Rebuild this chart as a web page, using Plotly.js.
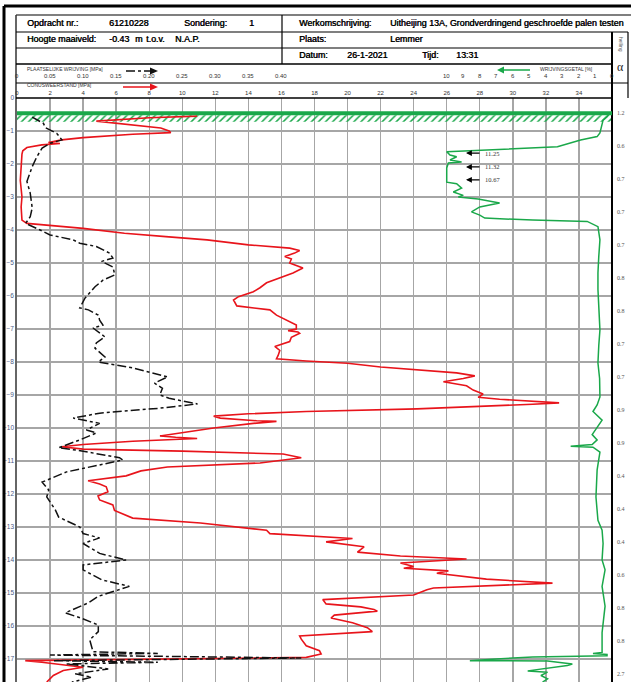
<!DOCTYPE html>
<html><head><meta charset="utf-8">
<script src="https://cdn.plot.ly/plotly-3.0.1.min.js"></script>
<style>html,body{margin:0;padding:0;background:#fff;}#c{width:631px;height:682px;}</style>
</head><body><div id="c"></div>
<script>
// ---- data (depth in m relative to top, conus in MPa, friction in MPa, ratio in %) ----
const conusDepth = [-0.55,-0.6,-0.7,-0.8,-0.91,-1.0,-1.05,-1.1,-1.2,-1.27,
-1.35,-1.38,-1.42,-1.5,-1.6,-1.7,-2.0,-2.5,-3.0,-3.3,
-3.7,-3.8,-3.95,-4.1,-4.2,-4.3,-4.45,-4.55,-4.62,-4.7,
-4.8,-4.88,-5.0,-5.15,-5.3,-5.45,-5.6,-5.75,-5.87,-6.02,
-6.12,-6.3,-6.36,-6.42,-6.58,-6.73,-6.88,-7.0,-7.05,-7.09,
-7.13,-7.25,-7.38,-7.53,-7.65,-7.8,-7.9,-7.97,-8.04,-8.15,
-8.25,-8.33,-8.42,-8.5,-8.6,-8.72,-8.85,-8.97,-9.07,-9.13,
-9.24,-9.28,-9.42,-9.5,-9.57,-9.64,-9.7,-9.78,-9.8,-9.86,
-10.0,-10.12,-10.24,-10.28,-10.32,-10.4,-10.5,-10.57,-10.64,-10.7,
-10.79,-10.9,-11.06,-11.18,-11.3,-11.45,-11.6,-11.7,-11.78,-11.93,
-12.06,-12.18,-12.33,-12.5,-12.73,-12.88,-13.1,-13.2,-13.3,-13.35,
-13.45,-13.6,-13.76,-13.88,-13.97,-14.09,-14.2,-14.25,-14.33,-14.4,
-14.58,-14.7,-14.85,-14.9,-15.06,-15.2,-15.33,-15.42,-15.5,-15.55,
-15.67,-15.76,-15.9,-16.05,-16.17,-16.3,-16.4,-16.6,-16.75,-16.85,
-16.95,-17.0,-17.05,-17.1,-17.2,-17.25,-17.35,-17.5,-17.7];
const conusValue = [10.9,8.0,4.8,6.5,8.7,9.2,9.3,7.0,4.0,2.7,
1.9,2.6,1.5,0.6,0.35,0.3,0.25,0.2,0.3,0.25,
0.3,0.6,4.0,6.5,9.0,11.5,14.0,16.5,17.1,16.8,
16.2,16.6,16.5,17.3,16.7,15.9,15.1,14.7,14.3,13.4,
13.1,13.3,14.5,15.3,15.7,16.3,16.9,16.9,16.4,17.0,
17.1,16.6,16.5,15.6,15.9,15.8,15.7,17.5,20.0,22.0,
24.5,26.6,27.7,27.0,25.8,27.2,27.6,28.2,27.9,29.2,
32.8,31.2,24.2,17.5,14.0,11.9,12.3,14.5,15.7,14.3,
11.9,10.3,8.65,9.6,10.9,7.0,4.0,2.7,4.0,10.0,
16.1,17.2,14.7,9.1,7.5,6.6,4.3,5.0,5.4,5.5,
4.9,5.0,5.8,5.9,7.0,11.1,15.1,15.3,18.9,20.3,
18.7,21.0,20.6,23.2,27.2,23.2,24.0,23.4,26.1,25.4,
28.4,32.4,25.2,24.8,24.0,18.5,18.7,20.8,21.6,21.8,
19.2,19.0,20.3,21.2,21.5,17.1,17.2,17.5,18.3,18.4,
17.5,10.0,0.5,1.5,3.4,4.0,2.8,2.2,1.8];

const wrijvingDepth = [-0.58,-0.77,-0.9,-1.07,-1.27,-1.37,-1.52,-1.78,-2.08,-2.4,
-2.53,-2.88,-3.33,-3.6,-3.8,-4.0,-4.15,-4.3,-4.4,-4.5,
-4.7,-4.85,-4.95,-5.12,-5.36,-5.52,-5.72,-5.9,-6.06,-6.36,
-6.42,-6.58,-6.73,-6.88,-6.97,-7.24,-7.42,-7.58,-7.85,-8.0,
-8.18,-8.45,-8.64,-8.8,-9.0,-9.1,-9.27,-9.4,-9.55,-9.7,
-9.86,-10.06,-10.15,-10.36,-10.6,-10.67,-10.9,-10.97,-11.12,-11.33,
-11.64,-11.88,-12.09,-12.48,-12.7,-13.0,-13.2,-13.33,-13.5,-13.8,
-14.0,-14.15,-14.3,-14.6,-14.8,-15.1,-15.3,-15.6,-15.77,-15.97,
-16.17,-16.42,-16.78,-16.83,-16.88,-16.97,-17.05,-17.1,-17.15,-17.3,
-17.45,-17.55,-17.7];
const wrijvingValue = [0.023,0.040,0.043,0.060,0.068,0.050,0.038,0.030,0.023,0.018,
0.015,0.020,0.023,0.020,0.013,0.035,0.050,0.085,0.095,0.120,
0.140,0.145,0.128,0.145,0.148,0.130,0.118,0.110,0.103,0.095,
0.108,0.123,0.125,0.130,0.115,0.133,0.120,0.118,0.133,0.123,
0.175,0.228,0.208,0.220,0.216,0.230,0.273,0.216,0.125,0.085,
0.125,0.105,0.120,0.095,0.063,0.090,0.155,0.160,0.125,0.075,
0.038,0.048,0.045,0.058,0.063,0.095,0.100,0.125,0.100,0.125,
0.165,0.100,0.100,0.128,0.170,0.123,0.108,0.073,0.098,0.123,
0.123,0.110,0.115,0.213,0.050,0.430,0.055,0.213,0.075,0.138,
0.088,0.113,0.083];

const getalDepth = [-0.45,-0.57,-0.67,-0.82,-1.06,-1.17,-1.27,-1.48,-1.55,-1.63,
-1.73,-1.78,-1.88,-1.94,-1.97,-2.12,-2.55,-2.6,-2.73,-2.85,
-2.95,-3.0,-3.06,-3.18,-3.3,-3.45,-3.55,-3.64,-3.7,-3.74,
-3.9,-4.3,-4.8,-5.3,-5.8,-6.5,-7.03,-7.5,-8.03,-8.5,
-9.06,-9.3,-9.5,-9.76,-10.06,-10.2,-10.36,-10.5,-10.55,-10.58,
-10.73,-11.27,-12.09,-12.8,-13.1,-13.5,-14.0,-14.3,-14.8,-15.4,
-16.2,-16.8,-16.83,-16.86,-16.9,-16.94,-17.0,-17.05,-17.06,-17.15,
-17.2,-17.36,-17.4,-17.5,-17.6,-17.7];
const getalValue = [0.1,0.3,0.54,0.6,0.73,0.9,1.9,3.3,6.8,10.0,
9.8,9.4,9.8,9.1,9.9,10.0,10.0,9.4,9.1,9.6,
9.0,9.3,8.1,6.8,8.0,8.5,8.0,7.7,4.8,1.5,
0.85,0.73,0.8,0.85,0.85,0.8,0.73,0.8,0.85,0.75,
0.73,0.9,1.15,0.6,1.0,1.2,0.9,1.2,2.5,1.15,
0.73,0.9,0.97,0.85,0.6,0.54,0.6,0.42,0.6,0.42,
0.6,0.6,1.15,0.3,0.3,4.8,7.0,8.6,3.9,2.4,
2.7,5.1,3.9,4.3,3.9,4.2];

const offscaleDepth = [-1.67,-2.09,-2.48];
const offscaleLabel = ['11.25','11.32','10.67'];

const hellingDepth = [-0.45,-1.45,-2.45,-3.45,-4.45,-5.45,-6.45,-7.45,-8.45,-9.45,-10.45,-11.45,-12.45,-13.45,-14.45,-15.45,-16.45,-17.45];
const hellingValue = ['1.2','0.6','0.7','0.7','0.7','0.8','0.8','0.7','0.7','0.9','0.9','0.4','0.4','0.4','0.6','0.8','0.8','2.7'];

const conusTicks = [0,2,4,6,8,10,12,14,16,18,20,22,24,26,28,30,32,34];
const wrijvingTicks = [0,0.05,0.10,0.15,0.20,0.25,0.30,0.35,0.40];
const wrijvingTickText = ['0','0.05','0.10','0.15','0.20','0.25','0.30','0.35','0.40'];
const getalTicks = [10,9,8,7,6,5,4,3,2,1,0];
const depthTicks = [0,-1,-2,-3,-4,-5,-6,-7,-8,-9,-10,-11,-12,-13,-14,-15,-16,-17];
const maaiveld = -0.46;

// ---- page geometry helpers (pixels -> paper) ----
const L=17,R=612,T=98,B=682;
const fx = X => (X-L)/(R-L);
const fy = Y => (B-Y)/(B-T);
const HF = 'Liberation Sans, Arial, sans-serif';
const SF = 'Liberation Sans, Arial, sans-serif';

const shapes = [];
function ln(x0,y0,x1,y1,w,c,dash){shapes.push({type:'line',xref:'paper',yref:'paper',x0:fx(x0),y0:fy(y0),x1:fx(x1),y1:fy(y1),line:{width:w,color:c,dash:dash||'solid'}});}
function tri(pts,c){let p='M '+pts.map(q=>fx(q[0])+' '+fy(q[1])).join(' L ')+' Z';shapes.push({type:'path',xref:'paper',yref:'paper',path:p,fillcolor:c,line:{width:0,color:c}});}

const ann = [];
function tx(t,X,Y,size,opt){opt=opt||{};const f={family:opt.family||HF,size:size,color:opt.color||'#000'};if(opt.shadow)f.shadow=opt.shadow;ann.push({xref:'paper',yref:'paper',x:fx(X),y:fy(Y),text:t,showarrow:false,xanchor:opt.xa||'left',yanchor:'middle',textangle:opt.angle||0,font:f});}

// outer frame
ln(4,6,631,6,3,'#000');
ln(4,6,4,682,3,'#000');
// table
ln(16,15,631,15,1.2,'#000');
ln(16,15,16,682,1.5,'#333');
ln(16,32,628,32,1.2,'#000');
ln(16,48,612,48,1.2,'#000');
ln(16,64,612,64,1.6,'#000');
ln(16,83,628,83,1.2,'#000');
ln(16,98,612,98,1.5,'#000');
ln(282,15,282,64,1.2,'#000');
ln(612,32,612,682,2,'#000');
ln(628,32,628,98,1.2,'#000');

// header text
const hs = 8.9, hb = {shadow:'0.45px 0px 0px #000'};
tx('Opdracht nr.:',25,23,hs,hb);
tx('61210228',107,23,hs,hb);
tx('Sondering:',182,23,hs,hb);
tx('1',247,23,hs,hb);
tx('Werkomschrijving:',297,23,hs,hb);
tx('Uitheijing 13A, Grondverdringend geschroefde palen testen',388,23,hs,hb);
tx('Hoogte maaiveld:',25,39,hs,hb);
tx('-0.43',107,39,hs,hb);
tx('m',133,39,hs,hb);
tx('t.o.v.',144,39,hs,hb);
tx('N.A.P.',173,39,hs,hb);
tx('Plaats:',297,39,hs,hb);
tx('Lemmer',388,39,hs,hb);
tx('Datum:',297,55,hs,hb);
tx('26-1-2021',345,55,hs,hb);
tx('Tijd:',420,55,hs,hb);
tx('13:31',454,55,hs,hb);

// axis captions
tx('PLAATSELIJKE WRIJVING [MPa]',25,68.5,5,{family:SF,color:'#333'});
tx('CONUSWEERSTAND [MPa]',25,85,5,{family:SF,color:'#333'});
tx('WRIJVINGSGETAL [%]',538,68.5,5,{family:SF,color:'#333'});
tx('helling',621,44,5,{family:SF,color:'#555',xa:'center',angle:90});
tx('α',620,67,12,{family:'Liberation Serif, serif',color:'#222',xa:'center'});

// legend arrows
ln(126,71,151,71,1.5,'#111','dashdot');
tri([[150,67.5],[158,71],[150,74.5]],'#111');
ln(123,87,151,87,1.5,'#e8141b');
tri([[150,83.5],[158,87],[150,90.5]],'#e8141b');
ln(530,70,503,70,1.5,'#1aa84a');
tri([[504,66.5],[497,70],[504,73.5]],'#1aa84a');

// header tick labels on secondary scales
wrijvingTicks.forEach((v,i)=>ann.push({xref:'x2',yref:'paper',x:v,y:fy(76.5),text:wrijvingTickText[i],showarrow:false,xanchor:'center',yanchor:'middle',font:{family:SF,size:6,color:'#333'}}));
getalTicks.forEach(v=>ann.push({xref:'x3',yref:'paper',x:v,y:fy(76.5),text:String(v),showarrow:false,xanchor:'center',yanchor:'middle',font:{family:SF,size:6,color:'#333'}}));

// inclination column
hellingDepth.forEach((d,i)=>ann.push({xref:'paper',yref:'y',x:fx(621),y:d,text:hellingValue[i],showarrow:false,xanchor:'center',yanchor:'middle',font:{family:'Liberation Serif, serif',size:6,color:'#555'}}));

// off-scale friction ratio markers
offscaleDepth.forEach((d,i)=>{
  ann.push({xref:'paper',yref:'y',x:fx(466),y:d,ax:15,ay:0,text:'',showarrow:true,arrowhead:2,arrowsize:0.9,arrowwidth:1.3,arrowcolor:'#000'});
  ann.push({xref:'paper',yref:'y',x:fx(483),y:d,text:offscaleLabel[i],showarrow:false,xanchor:'left',yanchor:'middle',font:{family:'Liberation Serif, serif',size:6.5,color:'#333'}});
});

// ground level line
shapes.push({type:'line',xref:'paper',yref:'y',x0:0,x1:1,y0:maaiveld,y1:maaiveld,line:{width:4,color:'#1aa84a'}});

const traces = [
  {type:'scatter',mode:'lines',x:[0,36,36,0,0],y:[maaiveld-0.06,maaiveld-0.06,maaiveld-0.26,maaiveld-0.26,maaiveld-0.06],
   fill:'toself',fillcolor:'rgba(0,0,0,0)',fillpattern:{shape:'/',fgcolor:'#1aa84a',bgcolor:'rgba(255,255,255,0)',size:5,solidity:0.3},
   line:{width:0},hoverinfo:'skip',xaxis:'x',yaxis:'y'},
  {type:'scatter',mode:'lines',x:conusValue,y:conusDepth,line:{color:'#e8141b',width:1.6},xaxis:'x',yaxis:'y'},
  {type:'scatter',mode:'lines',x:wrijvingValue,y:wrijvingDepth,line:{color:'#111',width:1.5,dash:'dashdot'},xaxis:'x2',yaxis:'y'},
  {type:'scatter',mode:'lines',x:getalValue,y:getalDepth,line:{color:'#1aa84a',width:1.5},xaxis:'x3',yaxis:'y'}
];

const layout = {
  width:631,height:682,
  margin:{l:L,r:631-R,t:T,b:0,pad:0},
  paper_bgcolor:'#fff',plot_bgcolor:'#fff',
  showlegend:false,
  xaxis:{range:[0,36],side:'top',tickmode:'array',tickvals:conusTicks,ticks:'',showline:false,zeroline:false,
         showgrid:true,gridcolor:'#a6a6a6',gridwidth:1.4,tickfont:{family:SF,size:6,color:'#333'},ticklabelstandoff:1,fixedrange:true},
  xaxis2:{range:[0,0.9],overlaying:'x',visible:false,fixedrange:true},
  xaxis3:{range:[36,0],overlaying:'x',visible:false,fixedrange:true},
  yaxis:{range:[-17.697,0],tickmode:'array',tickvals:depthTicks,ticks:'',showline:false,zeroline:false,
         showgrid:true,gridcolor:'#a6a6a6',gridwidth:1.4,tickfont:{family:SF,size:6.5,color:'#4a5a86'},ticklabelstandoff:2,fixedrange:true},
  shapes:shapes,
  annotations:ann
};
Plotly.newPlot('c',traces,layout,{staticPlot:true,displayModeBar:false});
</script></body></html>
